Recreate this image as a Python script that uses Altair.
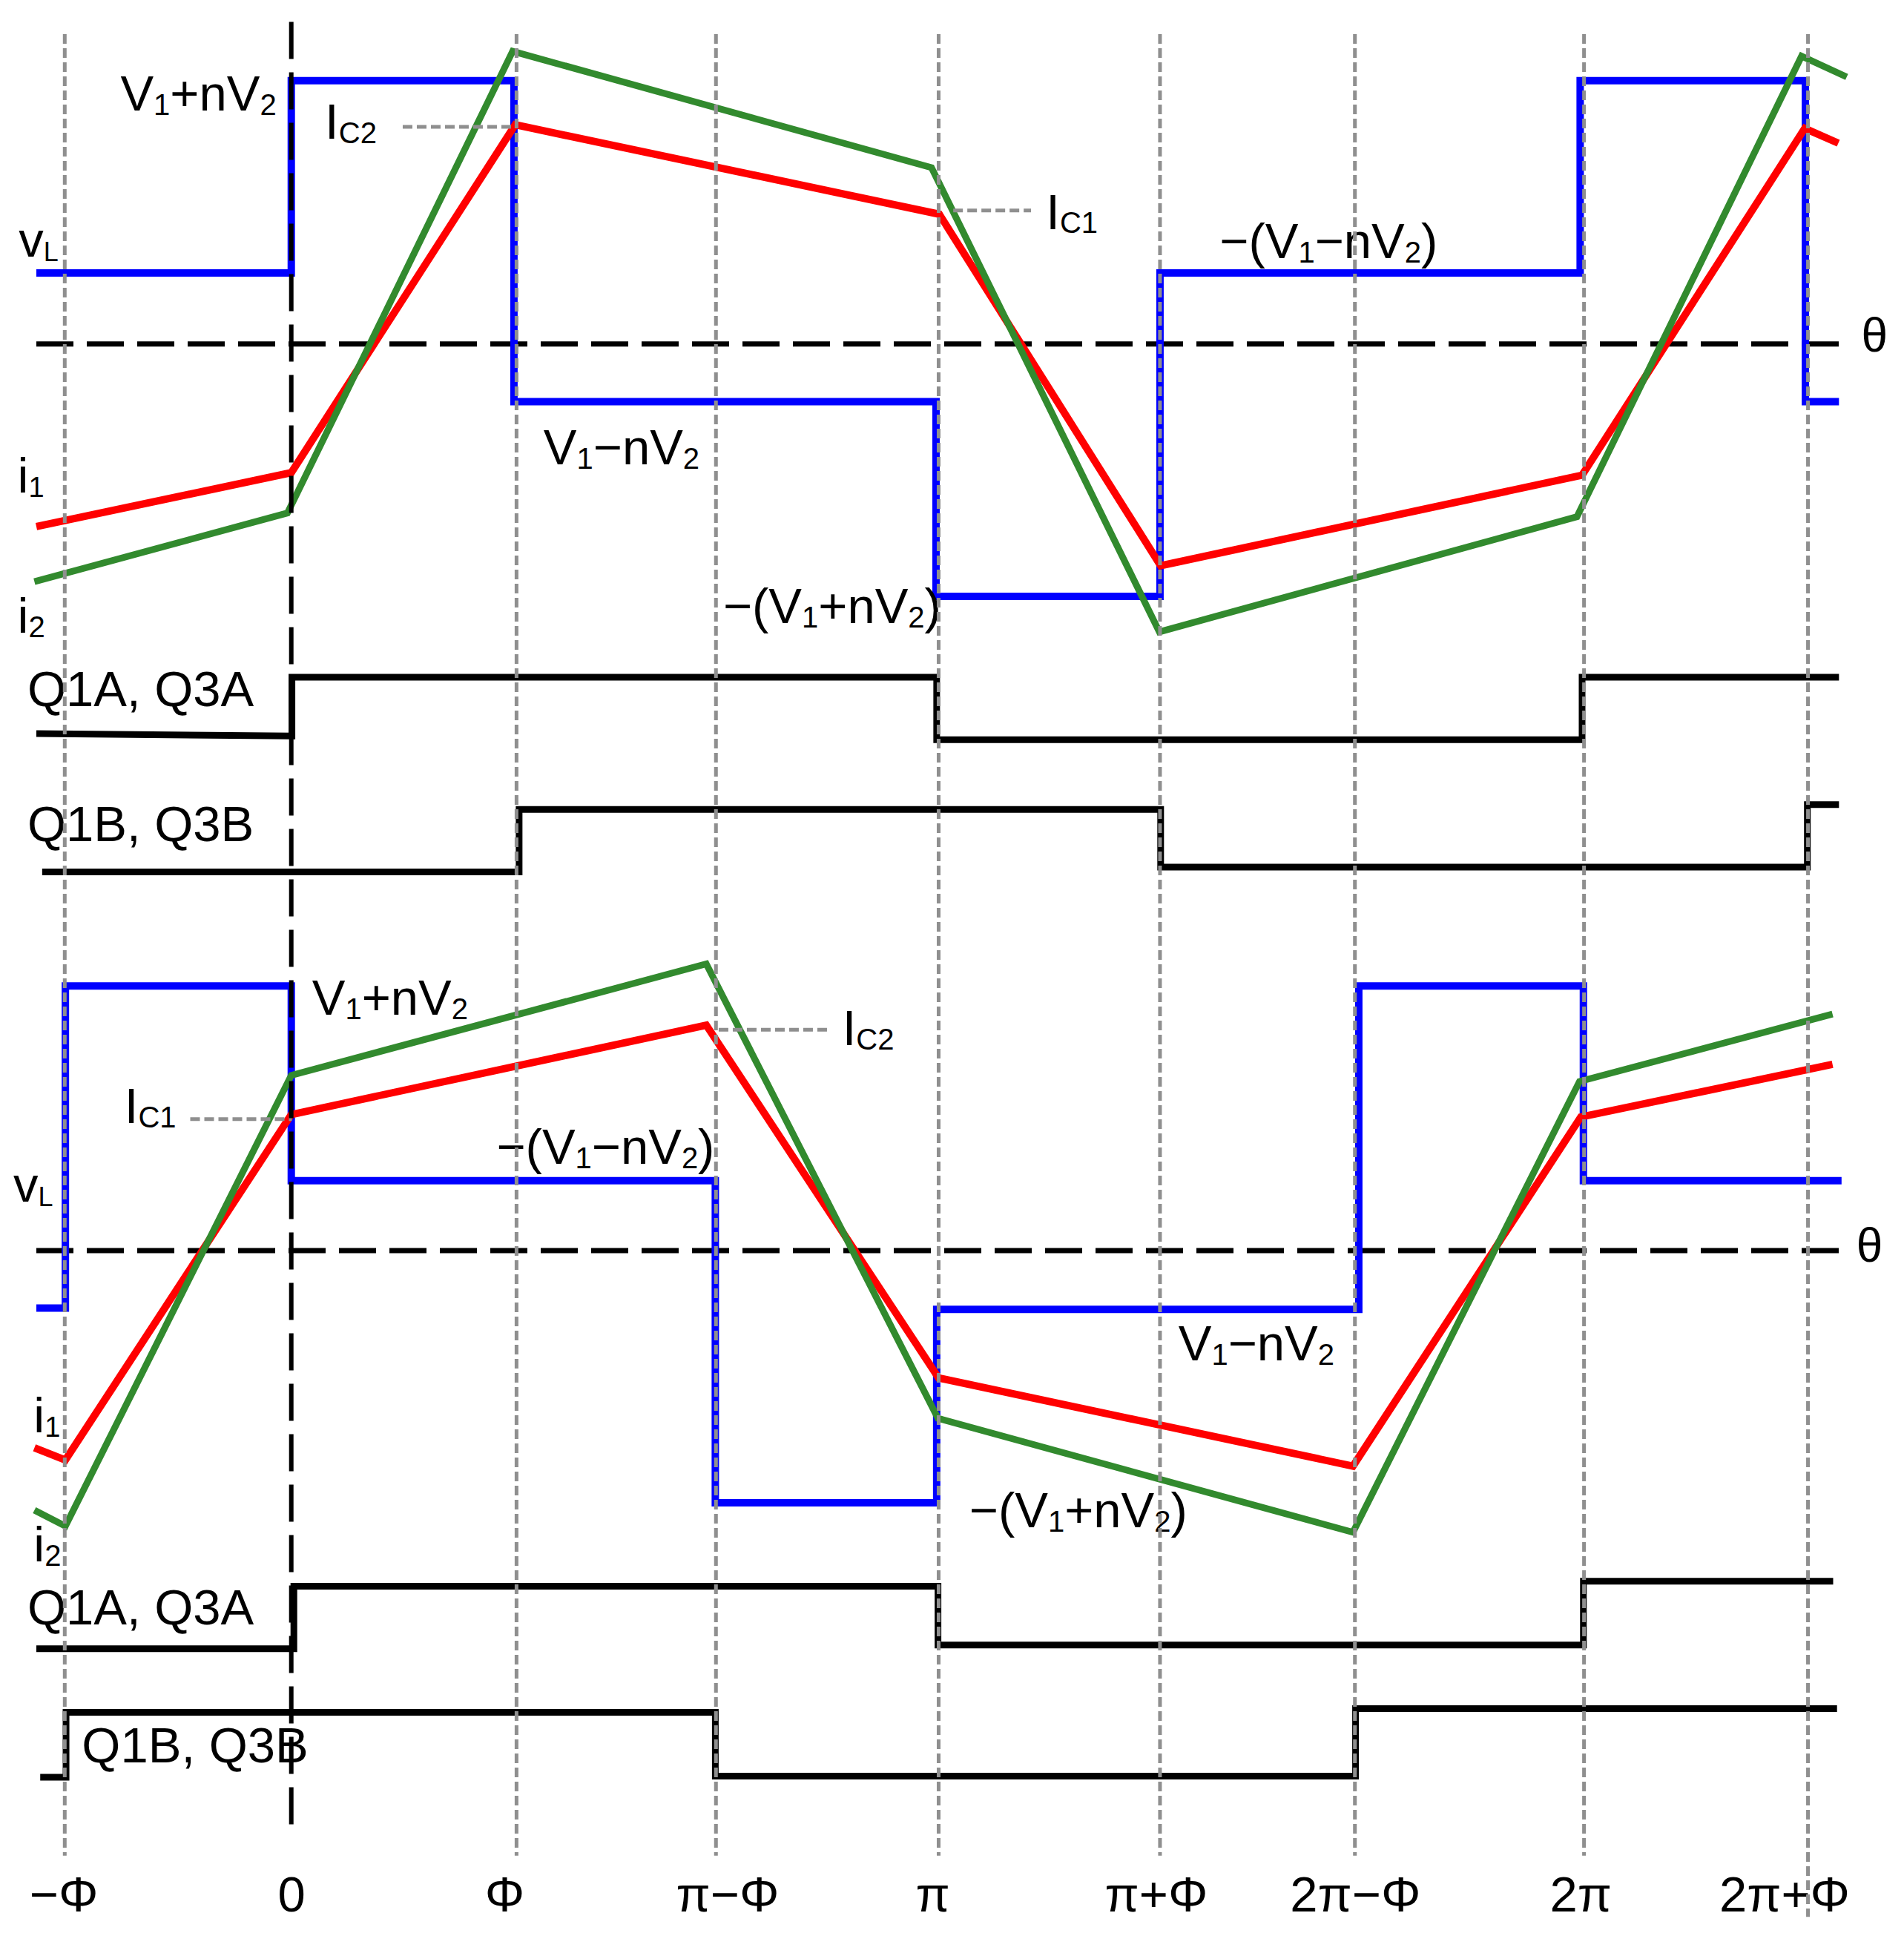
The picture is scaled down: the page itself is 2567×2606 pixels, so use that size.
import altair as alt
import pandas as pd

# ---------------- figure frame (figure units: x 0..1545, y 0..1568 from top) -------------
ORIGIN = 233.0        # figure x of theta = 0
PI_SPAN = 527.0       # figure units per pi
FIG_W = 1545.0
Y_MAX = 1515.0        # bottom of plotting area (figure units)
W = 2551
H_PLOT = 2502
PAD_BOTTOM = 88
SX = W / FIG_W

ZERO_TOP = 276        # theta-axis of upper panel (figure y)
ZERO_BOT = 1016       # theta-axis of lower panel (figure y)


def th(xfig):
    return (xfig - ORIGIN) / PI_SPAN


# ---------------- waveform data: theta in units of pi, value relative to panel's θ-axis (up +) ----
vL_top_x = [-0.395, 0.0, 0.0, 0.345, 0.345, 0.999, 0.999, 1.346, 1.346, 1.997, 1.997, 2.346, 2.346, 2.398]
vL_top_y = [58, 58, 215, 215, -47, -47, -206, -206, 58, 58, 215, 215, -47, -47]
i1_top_x = [-0.395, 0.0, 0.347, 1.004, 1.347, 2.0, 2.345, 2.397]
i1_top_y = [-149, -105, 179, 106, -181, -107, 176, 164]
i2_top_x = [-0.398, -0.006, 0.343, 0.992, 1.345, 1.992, 2.340, 2.410]
i2_top_y = [-194, -138, 239, 144, -235, -141, 235, 218]
qa_top_x = [-0.395, 0.001, 0.001, 1.0, 1.0, 2.0, 2.0, 2.398]
qa_top_y = [-318, -320, -272, -272, -323, -323, -272, -272]
qb_top_x = [-0.386, 0.353, 0.353, 1.347, 1.347, 2.349, 2.349, 2.398]
qb_top_y = [-431, -431, -380, -380, -427, -427, -376, -376]

vL_bot_x = [-0.395, -0.350, -0.350, 0.0, 0.0, 0.657, 0.657, 1.0, 1.0, 1.654, 1.654, 2.002, 2.002, 2.402]
vL_bot_y = [-47, -47, 216, 216, 57, 57, -206, -206, -48, -48, 216, 216, 57, 57]
i1_bot_x = [-0.398, -0.350, 0.0, 0.643, 1.003, 1.645, 1.998, 2.388]
i1_bot_y = [-161, -171, 111, 184, -104, -176, 109, 152]
i2_bot_x = [-0.398, -0.350, 0.0, 0.643, 1.002, 1.645, 1.996, 2.388]
i2_bot_y = [-212, -225, 143, 234, -137, -230, 138, 193]
qa_bot_x = [-0.395, 0.004, 0.004, 1.002, 1.002, 2.002, 2.002, 2.389]
qa_bot_y = [-325, -325, -274, -274, -322, -322, -270, -270]
qb_bot_x = [-0.389, -0.349, -0.349, 0.657, 0.657, 1.649, 1.649, 2.395]
qb_bot_y = [-430, -430, -377, -377, -429, -429, -374, -374]

# ---------------- tick labels and grid ----------------
tick_pos = [-0.353, 0.0, 0.330, 0.6755, 0.9934, 1.3397, 1.6482, 1.9974, 2.3131]
tick_text = ["−Φ", "0", "Φ", "π−Φ", "π", "π+Φ", "2π−Φ", "2π", "2π+Φ"]
grid_x = [-0.351, 0.349, 0.658, 1.003, 1.346, 1.648, 2.003, 2.350]
grid_y1 = [23, 23, 23, 23, 23, 23, 23, 23]
grid_y2 = [1510, 1510, 1510, 1510, 1510, 1510, 1510, 1560]


def series_df(name, xs, ys, zero):
    return pd.DataFrame({"series": name, "i": list(range(len(xs))), "x": xs,
                         "y": [zero - v for v in ys]})


blue_df = pd.concat([series_df("vL_top", vL_top_x, vL_top_y, ZERO_TOP),
                     series_df("vL_bot", vL_bot_x, vL_bot_y, ZERO_BOT)])
red_df = pd.concat([series_df("i1_top", i1_top_x, i1_top_y, ZERO_TOP),
                    series_df("i1_bot", i1_bot_x, i1_bot_y, ZERO_BOT)])
green_df = pd.concat([series_df("i2_top", i2_top_x, i2_top_y, ZERO_TOP),
                      series_df("i2_bot", i2_bot_x, i2_bot_y, ZERO_BOT)])
q_df = pd.concat([series_df("qa_top", qa_top_x, qa_top_y, ZERO_TOP),
                  series_df("qb_top", qb_top_x, qb_top_y, ZERO_TOP),
                  series_df("qa_bot", qa_bot_x, qa_bot_y, ZERO_BOT),
                  series_df("qb_bot", qb_bot_x, qb_bot_y, ZERO_BOT)])

# ---------------- annotations ----------------
MAIN = 67
SUB_DROP = 3.5
ADV = {'V': 667, '1': 556, '2': 556, '+': 584, 'n': 556, '−': 584, '(': 333, ')': 333,
       'I': 278, 'C': 722, 'v': 500, 'L': 556, 'i': 222}

VP = [("V", 0), ("1", 1), ("+nV", 0), ("2", 1)]
VM = [("V", 0), ("1", 1), ("−nV", 0), ("2", 1)]
NVP = [("−(V", 0), ("1", 1), ("+nV", 0), ("2", 1), (")", 0)]
NVM = [("−(V", 0), ("1", 1), ("−nV", 0), ("2", 1), (")", 0)]
IC1 = [("I", 0), ("C1", 1)]
IC2 = [("I", 0), ("C2", 1)]
VL = [("v", 0), ("L", 1)]
I1 = [("i", 0), ("1", 1)]
I2 = [("i", 0), ("2", 1)]

rich_labels = [
    (VL, 10.5, 204.6, 36), (VP, 93.5, 85.3, 40), (IC2, 260.5, 108.3, 40),
    (IC1, 849.3, 182.0, 40), (NVM, 991.0, 206.0, 40), (VM, 439.0, 374.5, 40),
    (I1, 9.4, 397.2, 38), (I2, 9.4, 511.6, 40), (NVP, 585.6, 504.0, 40),
    (VP, 250.0, 823.5, 40), (IC2, 683.0, 848.5, 40), (IC1, 96.8, 911.8, 40),
    (VL, 6.0, 976.2, 36), (NVM, 400.6, 945.4, 40), (VM, 957.4, 1105.7, 40),
    (I1, 22.6, 1164.6, 38), (I2, 22.6, 1270.0, 40), (NVP, 786.6, 1242.0, 40),
]
plain_labels = [
    ("Q1A, Q3A", 17.5, 571.8, MAIN), ("Q1B, Q3B", 17.5, 682.0, MAIN),
    ("θ", 1515.0, 282.0, 64),
    ("Q1A, Q3A", 17.5, 1321.0, MAIN), ("Q1B, Q3B", 62.0, 1434.0, MAIN),
    ("θ", 1511.0, 1025.0, 64),
]

rows = []
for parts, xl, base, sub in rich_labels:
    cur = 0.0  # output px
    for txt, is_sub in parts:
        size = sub if is_sub else MAIN
        rows.append({"x": th(xl + cur / SX), "y": base + (SUB_DROP if is_sub else 0.0),
                     "text": txt, "size": size})
        cur += sum(ADV.get(c, 556) for c in txt) / 1000.0 * size
for txt, xl, base, size in plain_labels:
    rows.append({"x": th(xl), "y": base, "text": txt, "size": size})
text_df = pd.DataFrame(rows)

leader_df = pd.DataFrame({"x": [th(324), th(773.5), th(582), th(150.5)],
                          "x2": [th(414), th(837), th(671), th(233.5)],
                          "y": [98.7, 167.0, 835.8, 908.8]})
axes_df = pd.DataFrame({"x": [-0.395, -0.395], "x2": [2.398, 2.398], "y": [ZERO_TOP, ZERO_BOT]})
grid_df = pd.DataFrame({"x": grid_x, "y": grid_y1, "y2": grid_y2})
zero_df = pd.DataFrame({"x": [0.0], "y": [13.0], "y2": [1490.0]})

# ---------------- scales / axis ----------------
expr = ""
for p, t in zip(tick_pos, tick_text):
    expr += "abs(datum.value - (%r)) < 0.01 ? '%s' : " % (p, t)
expr += "''"

XS = alt.Scale(domain=[th(0), th(FIG_W)], nice=False, zero=False)
YS = alt.Scale(domain=[0, Y_MAX], reverse=True, nice=False, zero=False)
XAXIS = alt.Axis(values=tick_pos, labelExpr=expr, title=None, grid=False, domain=False,
                 ticks=False, tickSize=0, labelPadding=66, labelFontSize=67,
                 labelFont="Liberation Sans", labelColor="black", labelBaseline="alphabetic",
                 labelFlush=False, labelOverlap=False, labelBound=False, labelAlign="center")


def X():
    return alt.X("x:Q", scale=XS, axis=XAXIS)


def Y():
    return alt.Y("y:Q", scale=YS, axis=None)


theta_axes = alt.Chart(axes_df).mark_rule(color="black", strokeWidth=7, strokeDash=[50, 18]).encode(
    x=X(), x2=alt.X2("x2"), y=Y())


def wave(df, color, width):
    return alt.Chart(df).mark_line(color=color, strokeWidth=width, strokeJoin="miter",
                                   strokeCap="butt").encode(
        x=X(), y=Y(), detail="series:N", order="i:Q")


blue = wave(blue_df, "#0000ff", 10)
red = wave(red_df, "#ff0000", 10)
green = wave(green_df, "#328a2e", 9)
qlines = wave(q_df, "#000000", 9)

texts = alt.Chart(text_df).mark_text(align="left", baseline="alphabetic", font="Liberation Sans",
                                     color="black").encode(
    x=X(), y=Y(), text="text:N", size=alt.Size("size:Q", scale=None, legend=None))

leaders = alt.Chart(leader_df).mark_rule(color="#8f8f8f", strokeWidth=5, strokeDash=[13, 6]).encode(
    x=X(), x2=alt.X2("x2"), y=Y())
grid = alt.Chart(grid_df).mark_rule(color="#8f8f8f", strokeWidth=5, strokeDash=[13, 6]).encode(
    x=X(), y=Y(), y2=alt.Y2("y2"))
vzero = alt.Chart(zero_df).mark_rule(color="black", strokeWidth=6, strokeDash=[50, 18]).encode(
    x=X(), y=Y(), y2=alt.Y2("y2"))

chart = alt.layer(theta_axes, blue, red, green, qlines, texts, leaders, grid, vzero).properties(
    width=W, height=H_PLOT,
    padding={"left": 0, "right": 0, "top": 0, "bottom": PAD_BOTTOM},
    autosize=alt.AutoSizeParams(type="none"),
    background="white",
).configure_view(stroke=None)

chart.save("out.html", embed_options={"renderer": "svg", "actions": False})
